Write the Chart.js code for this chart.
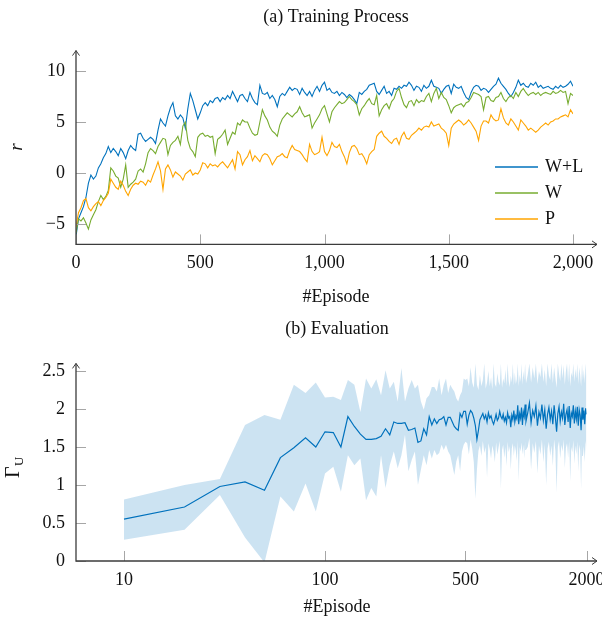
<!DOCTYPE html>
<html>
<head>
<meta charset="utf-8">
<script src="https://cdn.jsdelivr.net/npm/chart.js@4.4.1/dist/chart.umd.min.js"></script>
<style>
  body { margin: 0; background: #fff; }
  #wrap { position: relative; width: 602px; height: 617px; overflow: hidden; }
  canvas { position: absolute; left: 0; }
</style>
</head>
<body>
<div id="wrap">
  <canvas id="training" width="602" height="310" style="top:0"></canvas>
  <canvas id="evaluation" width="602" height="307" style="top:310px"></canvas>
</div>
<script>
// ---- (a) training curves, one value every 10 episodes (0..2000)
const trainEpisodes = [];
for (let e = 0; e <= 2000; e += 10) trainEpisodes.push(e);

const rewardWL = [
  -6.2, -4.5, -3.9, -3.3, -2.4, -1.0, -0.2, -0.6, -0.3, 0.5,
  0.9, 1.5, 1.9, 2.6, 2.0, 2.4, 2.1, 1.7, 2.4, 2.0,
  1.4, 2.2, 2.7, 2.4, 2.2, 3.8, 3.9, 3.4, 3.1, 3.3,
  3.5, 3.3, 2.9, 4.2, 5.3, 4.9, 4.6, 5.6, 6.4, 6.9,
  5.6, 5.3, 5.7, 5.4, 4.4, 6.3, 7.8, 7.1, 6.2, 5.3,
  5.9, 6.6, 6.9, 6.6, 7.1, 6.9, 7.3, 7.4, 7.0, 7.4,
  7.2, 7.6, 7.3, 8.0, 7.5, 7.0, 7.6, 7.7, 7.3, 7.0,
  7.9, 7.3, 6.9, 6.7, 8.6, 7.8, 7.7, 7.9, 7.3, 7.6,
  7.2, 6.5, 7.5, 7.8, 7.6, 8.0, 8.4, 8.1, 8.3, 8.2,
  7.7, 8.3, 7.9, 7.6, 8.0, 7.5, 8.1, 8.5, 8.0, 8.6,
  8.9, 8.1, 8.3, 7.9, 7.8, 8.0, 7.6, 7.9, 7.7, 7.4,
  7.7, 7.5, 7.2, 6.8, 7.9, 7.7, 8.0, 8.2, 8.6, 8.7,
  8.8, 8.0, 7.7, 8.1, 8.5, 7.8, 8.0, 7.6, 8.3, 8.2,
  8.5, 8.3, 8.6, 8.5, 8.9, 8.6, 8.1, 8.5, 8.4, 8.0,
  8.6, 8.3, 8.5, 9.1, 8.5, 8.4, 8.3, 7.8, 8.2, 8.5,
  8.6, 7.8, 8.7, 8.4, 8.3, 8.5, 7.9, 7.4, 7.2, 7.9,
  8.4, 8.6, 8.5, 8.1, 8.3, 8.2, 7.9, 8.2, 8.5, 8.7,
  9.3, 8.8, 8.5, 8.2, 7.8, 7.5, 7.9, 8.4, 9.1, 8.6,
  8.8, 8.5, 8.4, 8.8, 8.6, 8.9, 8.4, 8.6, 8.3, 8.4,
  8.5, 8.3, 8.2, 8.5, 8.3, 8.6, 8.4, 8.5, 8.7, 9.0,
  8.5
];

const rewardW = [
  -5.9, -4.5, -4.7, -4.4, -4.9, -5.5, -4.6, -4.1, -3.6, -2.8,
  -2.2, -2.6, -2.3, -1.7, 0.5, 0.2, -0.3, -0.5, -1.4, -0.6,
  0.8, -1.4, -1.1, -0.9, -0.6, 0.2, 0.4, 0.1, 0.9, 2.0,
  2.4, 2.2, 1.9, 2.6, 3.0, 3.4, 3.3, 1.8, 2.7, 3.0,
  3.2, 3.6, 2.8, 4.6, 5.0, 3.2, 2.4, 2.1, 1.6, 3.5,
  3.8, 3.9, 3.6, 3.7, 3.5, 3.6, 1.9, 3.3, 3.5, 3.8,
  4.2, 2.8, 3.4, 4.0, 3.8, 4.9, 4.7, 5.2, 5.0, 5.0,
  4.4, 3.9, 3.7, 3.8, 5.0, 6.2, 5.6, 5.2, 4.5, 4.1,
  3.9, 3.6, 4.7, 5.3, 5.6, 5.9, 5.7, 5.5, 5.8, 6.0,
  6.5, 5.9, 5.5, 5.6, 5.7, 4.4, 4.9, 5.3, 5.7, 6.3,
  6.6, 5.8, 5.0, 6.0, 6.4, 6.7, 7.0, 6.8, 6.9, 7.2,
  7.5, 7.2, 7.0, 6.7, 5.7, 6.3, 6.6, 7.0, 7.3, 6.8,
  6.7, 7.6, 5.6, 6.2, 6.6, 6.8, 6.3, 7.0, 7.3, 8.0,
  8.3, 7.4, 6.7, 6.4, 7.0, 7.1, 6.6, 7.2, 6.9, 7.1,
  7.0, 7.5, 7.8, 7.0, 7.8, 8.3, 7.3, 7.9, 7.4, 7.2,
  6.6, 5.9, 6.4, 6.6, 6.7, 6.8, 6.5, 6.9, 7.0, 7.4,
  7.9, 7.8, 7.7, 7.5, 6.2, 7.4, 7.5, 7.1, 7.0, 7.4,
  7.5, 7.9, 7.3, 7.0, 7.4, 7.6, 7.3, 7.9, 7.5, 8.0,
  8.3, 7.9, 7.6, 7.8, 7.9, 7.7, 7.9, 7.6, 7.8, 7.9,
  7.8, 7.7, 8.0, 7.8, 7.9, 8.1, 7.9, 8.0, 6.8, 7.8,
  7.6
];

const rewardP = [
  -5.3, -3.9, -3.4, -2.7, -2.5, -3.4, -3.7, -3.3, -3.0, -2.8,
  -3.2, -2.7, -2.4, -2.0, -0.6, -1.0, -1.4, -1.6, -0.8, -1.2,
  -1.8, -2.2, -1.6, -1.2, -1.0, -1.1, -0.8, -0.9, -1.2, -0.7,
  -0.9, -0.2, 0.4, 1.1, 0.2, -1.6, 0.4, 0.8, 0.3, -0.4,
  0.1, -0.1, -0.3, -0.7, -0.1, 0.1, 0.3, -0.2, 0.0, -0.1,
  0.3, 1.0, 0.9, 0.5, 0.9, 0.7, 0.8, 0.6, 0.9, 1.1,
  0.8, 0.5, 0.9, 1.3, 0.4, 2.1, 1.8, 0.8, 1.3, 1.6,
  2.2, 1.2, 1.7, 1.4, 1.1, 1.7, 1.9, 1.8, 1.4, 0.8,
  1.2, 1.6, 1.7, 1.9, 1.6, 1.5, 2.2, 2.7, 2.3, 2.2,
  2.1, 1.8, 1.4, 1.1, 2.8, 2.1, 1.8, 1.9, 2.1, 3.5,
  2.1, 1.7, 2.2, 3.0, 2.6, 2.5, 2.8, 2.1, 1.6, 0.9,
  2.0, 2.6, 2.7, 2.4, 1.8, 1.9, 1.5, 0.9, 1.8, 2.1,
  2.3, 3.6, 3.9, 4.1, 3.6, 3.4, 3.1, 2.9, 3.3, 3.4,
  2.8, 3.6, 4.0, 3.4, 3.3, 3.7, 3.9, 4.1, 4.4, 4.2,
  4.5, 4.6, 4.5, 5.0, 4.6, 4.7, 4.8, 4.4, 4.2, 3.9,
  2.7, 4.4, 4.8, 5.0, 5.2, 5.0, 4.7, 4.9, 5.2, 4.9,
  4.5, 4.1, 3.2, 4.6, 5.1, 5.1, 4.9, 5.7, 5.3, 5.1,
  5.2, 6.3, 5.4, 4.9, 4.7, 5.3, 5.0, 4.6, 4.2, 5.2,
  4.9, 4.6, 4.2, 4.4, 4.2, 4.0, 4.2, 4.5, 4.7, 4.9,
  4.7, 5.0, 5.1, 5.3, 5.3, 5.5, 5.6, 5.7, 5.5, 6.2,
  5.8
];

const trainXTicks = [0, 500, 1000, 1500, 2000];
const trainYTicks = [-5, 0, 5, 10];

// ---- (b) evaluation: every 10 episodes up to 1000, then every 20
const evalEpisodes = [];
for (let e = 10; e <= 1000; e += 10) evalEpisodes.push(e);
for (let e = 1020; e <= 2000; e += 20) evalEpisodes.push(e);

const gammaMean = [
  0.55, 0.71, 0.98, 1.04, 0.93, 1.36, 1.49, 1.62, 1.50, 1.70,
  1.69, 1.50, 1.90, 1.77, 1.67, 1.60, 1.60, 1.61, 1.64, 1.74,
  1.66, 1.83, 1.81, 1.81, 1.82, 1.72, 1.73, 1.75, 1.56, 1.58,
  1.74, 1.66, 1.90, 1.79, 1.87, 1.81, 1.86, 1.87, 1.90, 1.79,
  1.89, 1.89, 1.83, 1.77, 1.74, 1.72, 1.94, 1.89, 1.97, 1.97,
  1.80, 1.92, 1.98, 1.95, 1.88, 1.78, 1.60, 1.72, 1.86, 1.90,
  1.94, 1.87, 1.92, 1.83, 1.95, 1.88, 1.91, 1.84, 1.80, 1.86,
  1.93, 1.85, 1.88, 1.97, 1.90, 1.87, 1.93, 1.84, 1.89, 1.82,
  1.95, 1.88, 1.90, 1.76, 1.92, 1.86, 1.98, 1.83, 1.91, 1.87,
  2.05, 1.80, 1.94, 1.88, 2.02, 1.79, 1.96, 1.90, 2.06, 1.84,
  1.95, 2.08, 1.82, 1.98, 1.90, 2.04, 1.78, 1.96, 1.88, 2.06,
  1.85, 1.99, 1.74, 1.93, 2.02, 1.86, 1.97, 1.80, 2.05, 1.89,
  1.70, 1.94, 2.03, 1.84, 1.96, 1.88, 2.07, 1.79, 1.93, 1.99,
  1.83, 2.04, 1.75, 1.95, 1.90, 2.05, 1.81, 1.97, 1.87, 2.03,
  1.78, 1.99, 1.92, 1.72, 2.02, 1.86, 1.98, 1.80, 2.01, 1.93
];

const gammaUpper = [
  0.81, 1.00, 1.08, 1.79, 1.92, 1.86, 2.32, 2.21, 2.35, 2.15,
  2.16, 2.12, 2.38, 2.32, 1.96, 2.40, 2.27, 2.39, 2.18, 2.51,
  2.27, 2.36, 2.10, 2.54, 2.10, 2.27, 2.38, 2.27, 2.32, 2.10,
  1.99, 2.14, 2.18, 2.29, 2.29, 2.23, 2.40, 2.18, 2.32, 2.40,
  2.21, 2.32, 2.27, 2.23, 2.14, 2.10, 2.18, 2.23, 2.40, 2.38,
  2.40, 2.30, 2.55, 2.35, 2.28, 2.60, 2.32, 2.25, 2.45, 2.30,
  2.38, 2.60, 2.27, 2.35, 2.50, 2.30, 2.42, 2.26, 2.60, 2.33,
  2.29, 2.47, 2.36, 2.31, 2.60, 2.28, 2.40, 2.34, 2.52, 2.30,
  2.60, 2.37, 2.29, 2.44, 2.35, 2.60, 2.31, 2.48, 2.33, 2.39,
  2.60, 2.30, 2.45, 2.36, 2.60, 2.32, 2.50, 2.38, 2.60, 2.34,
  2.45, 2.60, 2.35, 2.55, 2.40, 2.60, 2.33, 2.50, 2.42, 2.60,
  2.36, 2.52, 2.30, 2.60, 2.44, 2.38, 2.60, 2.34, 2.55, 2.41,
  2.28, 2.60, 2.46, 2.37, 2.60, 2.40, 2.58, 2.32, 2.50, 2.60,
  2.35, 2.60, 2.30, 2.48, 2.42, 2.60, 2.36, 2.53, 2.40, 2.60,
  2.33, 2.55, 2.45, 2.30, 2.60, 2.38, 2.52, 2.34, 2.60, 2.42
];

const gammaLower = [
  0.28, 0.41, 0.87, 0.31, -0.02, 0.85, 0.65, 1.02, 0.65, 1.15,
  1.24, 0.91, 1.39, 1.26, 1.35, 0.80, 0.96, 0.85, 1.39, 0.96,
  1.26, 1.44, 1.22, 1.39, 1.66, 1.18, 1.33, 1.44, 1.00, 1.20,
  1.39, 1.26, 1.46, 1.35, 1.46, 1.39, 1.42, 1.53, 1.46, 1.53,
  1.44, 1.39, 1.26, 1.13, 1.31, 1.39, 1.18, 1.44, 1.53, 1.57,
  1.55, 1.40, 1.60, 1.48, 1.30, 0.82, 1.20, 1.45, 1.52, 1.38,
  1.58, 1.42, 1.50, 1.10, 1.55, 1.47, 1.35, 1.52, 1.44, 1.30,
  1.56, 1.40, 1.49, 1.58, 0.95, 1.46, 1.53, 1.36, 1.50, 1.25,
  1.57, 1.43, 1.51, 1.20, 1.48, 1.55, 1.38, 1.52, 1.45, 1.32,
  1.58, 1.05, 1.50, 1.44, 1.56, 1.40, 1.53, 1.35, 1.57, 1.46,
  1.50, 1.62, 1.20, 1.55, 1.42, 1.58, 1.15, 1.52, 1.40, 1.60,
  1.30, 1.54, 1.00, 1.48, 1.57, 1.38, 1.52, 1.25, 1.60, 1.45,
  0.90, 1.50, 1.58, 1.35, 1.53, 1.44, 1.60, 1.22, 1.49, 1.55,
  1.36, 1.58, 1.05, 1.50, 1.43, 1.59, 1.28, 1.52, 1.40, 1.57,
  1.18, 1.53, 1.46, 0.95, 1.56, 1.38, 1.51, 1.30, 1.58, 1.47
];

const evalXTicks = [10, 100, 500, 2000];
const evalYTicks = [0, 0.5, 1, 1.5, 2, 2.5];

const SERIF = '"Liberation Serif", "Times New Roman", serif';
Chart.defaults.font.family = SERIF;
Chart.defaults.color = '#111';

function toPoints(xs, ys) {
  return ys.map((v, i) => ({ x: xs[i], y: v }));
}

// pgfplots-like axes: inner tick marks, axis lines with arrow heads
const pgfAxes = {
  id: 'pgfAxes',
  afterDatasetsDraw(chart, args, opts) {
    const ctx = chart.ctx;
    const a = chart.chartArea;
    const x = chart.scales.x, y = chart.scales.y;
    ctx.save();
    ctx.strokeStyle = '#a6a6a6';
    ctx.lineWidth = 1;
    x.ticks.forEach(t => {
      const px = Math.round(x.getPixelForValue(t.value)) + 0.5;
      ctx.beginPath();
      ctx.moveTo(px, a.bottom);
      ctx.lineTo(px, a.bottom - opts.tick);
      ctx.stroke();
    });
    y.ticks.forEach(t => {
      const py = Math.round(y.getPixelForValue(t.value)) + 0.5;
      ctx.beginPath();
      ctx.moveTo(a.left, py);
      ctx.lineTo(a.left + opts.tick, py);
      ctx.stroke();
    });
    ctx.strokeStyle = '#3c3c3c';
    ctx.lineWidth = 1.3;
    ctx.beginPath();
    ctx.moveTo(a.left, a.top);
    ctx.lineTo(a.left, a.bottom);
    ctx.lineTo(opts.xEnd, a.bottom);
    ctx.stroke();
    ctx.lineWidth = 1;
    ctx.beginPath();
    ctx.moveTo(a.left - 3.5, a.top + 5);
    ctx.lineTo(a.left, a.top);
    ctx.lineTo(a.left + 3.5, a.top + 5);
    ctx.moveTo(opts.xEnd - 5, a.bottom - 3.5);
    ctx.lineTo(opts.xEnd, a.bottom);
    ctx.lineTo(opts.xEnd - 5, a.bottom + 3.5);
    ctx.stroke();
    ctx.restore();
  }
};

// titles, axis labels and the legend
const pgfText = {
  id: 'pgfText',
  afterDraw(chart, args, opts) {
    const ctx = chart.ctx;
    (opts.items || []).forEach(it => {
      ctx.save();
      ctx.font = it.font;
      ctx.fillStyle = '#111';
      ctx.textAlign = it.align || 'center';
      ctx.textBaseline = it.baseline || 'middle';
      ctx.translate(it.x, it.y);
      if (it.rotate) ctx.rotate(-Math.PI / 2);
      ctx.fillText(it.text, 0, 0);
      ctx.restore();
    });
    const lg = opts.legend;
    if (lg) {
      ctx.save();
      ctx.font = '18px ' + SERIF;
      ctx.textAlign = 'left';
      ctx.textBaseline = 'middle';
      chart.data.datasets.forEach((ds, i) => {
        const yy = lg.y + i * lg.step;
        ctx.strokeStyle = ds.borderColor;
        ctx.lineWidth = 1.3;
        ctx.beginPath();
        ctx.moveTo(lg.x, yy);
        ctx.lineTo(lg.x + lg.len, yy);
        ctx.stroke();
        ctx.fillStyle = '#111';
        ctx.fillText(ds.label, lg.x + lg.len + 7, yy);
      });
      ctx.restore();
    }
  }
};

const tickFont = { family: SERIF, size: 18 };

new Chart(document.getElementById('training'), {
  type: 'line',
  data: {
    datasets: [
      { label: 'W+L', data: toPoints(trainEpisodes, rewardWL), borderColor: '#0072BD', borderWidth: 1.1, pointRadius: 0, tension: 0, order: 3 },
      { label: 'W', data: toPoints(trainEpisodes, rewardW), borderColor: '#77AC30', borderWidth: 1.1, pointRadius: 0, tension: 0, order: 2 },
      { label: 'P', data: toPoints(trainEpisodes, rewardP), borderColor: '#FFA500', borderWidth: 1.1, pointRadius: 0, tension: 0, order: 1 }
    ]
  },
  options: {
    responsive: false,
    animation: false,
    events: [],
    layout: { padding: { left: 0, right: 29, top: 50.6, bottom: 0 } },
    plugins: {
      legend: { display: false },
      tooltip: { enabled: false },
      pgfAxes: { tick: 10, xEnd: 597 },
      pgfText: {
        items: [
          { text: '(a) Training Process', x: 336, y: 17, font: '18px ' + SERIF },
          { text: '#Episode', x: 336, y: 297, font: '18px ' + SERIF },
          { text: 'r', x: 17, y: 147, font: 'italic 19px ' + SERIF, rotate: true }
        ],
        legend: { x: 495, len: 43, y: 167, step: 26 }
      }
    },
    scales: {
      x: {
        type: 'linear', min: 0, max: 2000,
        grid: { display: false, drawTicks: false },
        border: { display: false },
        afterBuildTicks: s => { s.ticks = trainXTicks.map(v => ({ value: v })); },
        afterFit: s => { s.height = 65.6; s.paddingLeft = 0; s.paddingRight = 0; },
        ticks: { padding: 8, autoSkip: false, maxRotation: 0, minRotation: 0, font: tickFont, color: '#111',
          callback: v => v.toLocaleString('en-US') }
      },
      y: {
        min: -7, max: 12,
        grid: { display: false, drawTicks: false },
        border: { display: false },
        afterBuildTicks: s => { s.ticks = trainYTicks.map(v => ({ value: v })); },
        afterFit: s => { s.width = 76; s.paddingTop = 0; s.paddingBottom = 0; },
        ticks: { padding: 11, font: tickFont, color: '#111',
          callback: v => (v < 0 ? '\u2212' + Math.abs(v) : String(v)) }
      }
    }
  },
  plugins: [pgfAxes, pgfText]
});

new Chart(document.getElementById('evaluation'), {
  type: 'line',
  data: {
    datasets: [
      { label: 'upper', data: toPoints(evalEpisodes, gammaUpper), borderColor: 'transparent', borderWidth: 0, pointRadius: 0, tension: 0,
        fill: '+1', backgroundColor: 'rgba(0,114,189,0.2)', order: 3 },
      { label: 'lower', data: toPoints(evalEpisodes, gammaLower), borderColor: 'transparent', borderWidth: 0, pointRadius: 0, tension: 0,
        fill: false, order: 2 },
      { label: 'mean', data: toPoints(evalEpisodes, gammaMean), borderColor: '#0072BD', borderWidth: 1.2, pointRadius: 0, tension: 0,
        fill: false, order: 1 }
    ]
  },
  options: {
    responsive: false,
    animation: false,
    events: [],
    layout: { padding: { left: 0, right: 15.5, top: 53.4, bottom: 0 } },
    plugins: {
      legend: { display: false },
      tooltip: { enabled: false },
      pgfAxes: { tick: 10, xEnd: 597 },
      pgfText: {
        items: [
          { text: '(b) Evaluation', x: 337, y: 19, font: '18px ' + SERIF },
          { text: '#Episode', x: 337, y: 297, font: '18px ' + SERIF },
          { text: '\u0393', x: 19, y: 168, font: '20px ' + SERIF, rotate: true, align: 'left', baseline: 'alphabetic' },
          { text: 'U', x: 23, y: 156, font: '13px ' + SERIF, rotate: true, align: 'left', baseline: 'alphabetic' }
        ]
      }
    },
    scales: {
      x: {
        type: 'logarithmic', min: 5.77, max: 2000,
        grid: { display: false, drawTicks: false },
        border: { display: false },
        afterBuildTicks: s => { s.ticks = evalXTicks.map(v => ({ value: v })); },
        afterFit: s => { s.height = 56; s.paddingLeft = 0; s.paddingRight = 0; },
        ticks: { padding: 8, autoSkip: false, maxRotation: 0, minRotation: 0, font: tickFont, color: '#111',
          callback: v => String(v) }
      },
      y: {
        min: 0, max: 2.6,
        grid: { display: false, drawTicks: false },
        border: { display: false },
        afterBuildTicks: s => { s.ticks = evalYTicks.map(v => ({ value: v })); },
        afterFit: s => { s.width = 76; s.paddingTop = 0; s.paddingBottom = 0; },
        ticks: { padding: 11, font: tickFont, color: '#111',
          callback: v => String(v) }
      }
    }
  },
  plugins: [pgfAxes, pgfText]
});
</script>
</body>
</html>
